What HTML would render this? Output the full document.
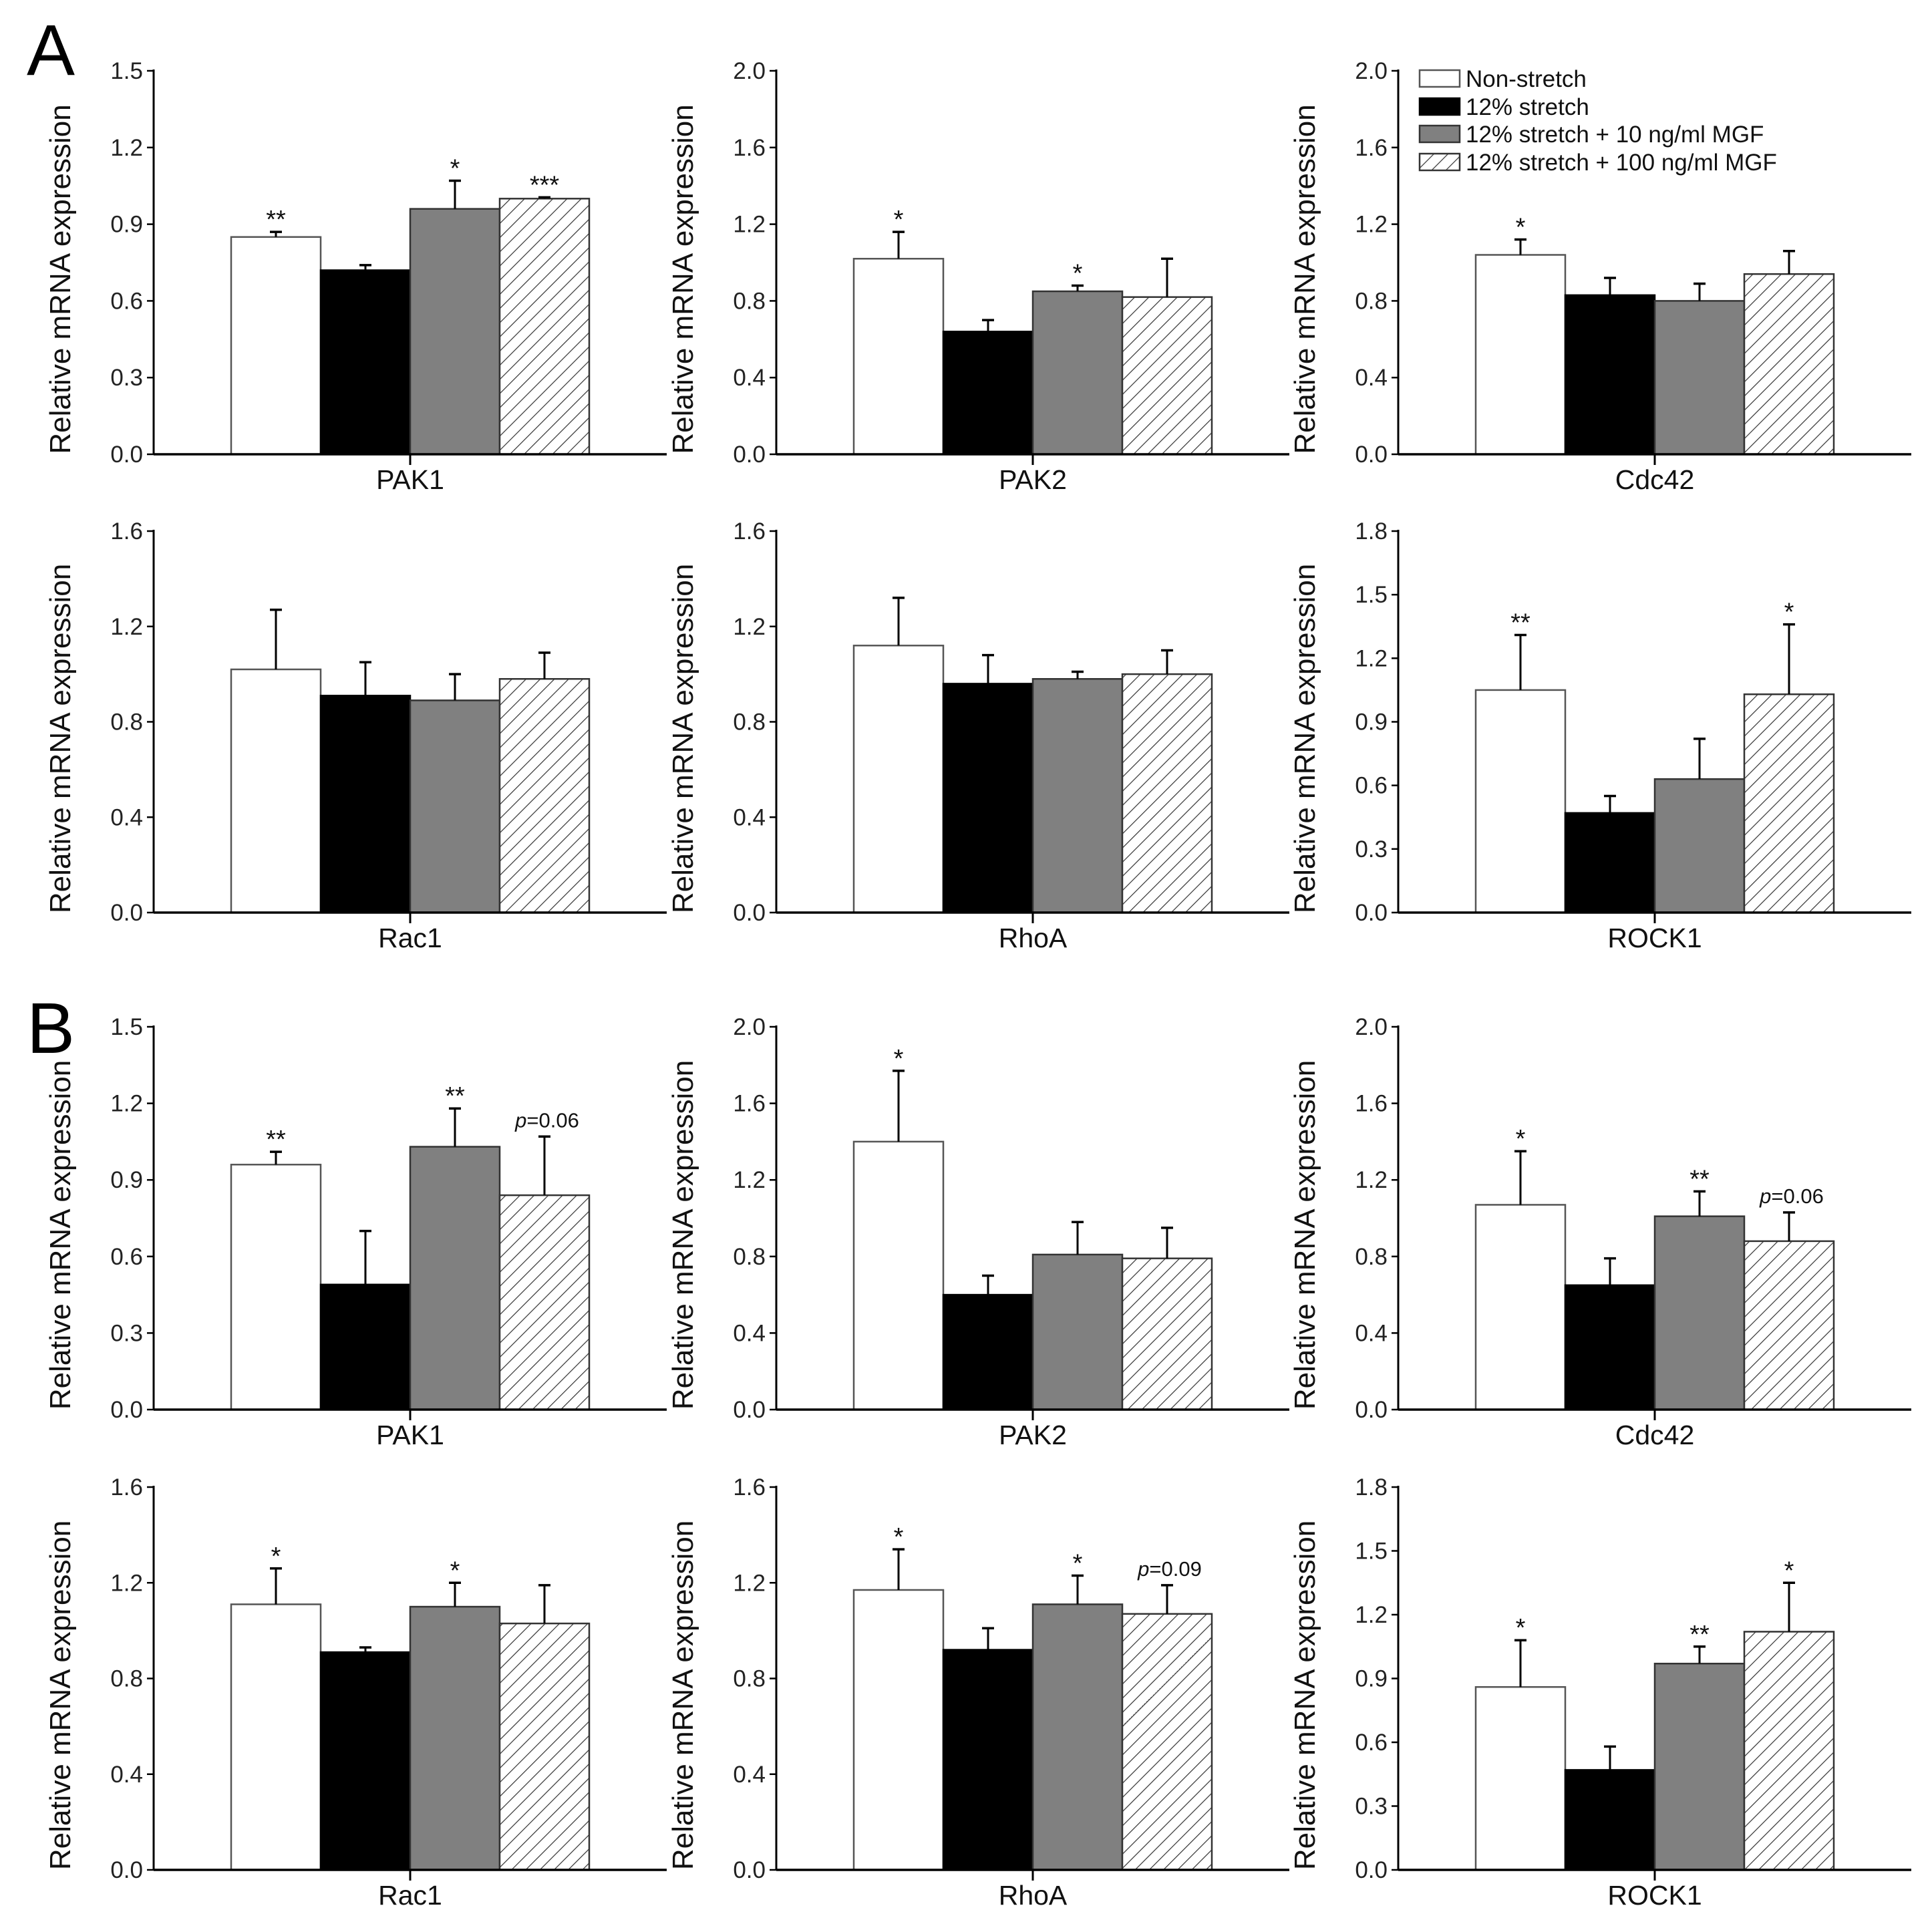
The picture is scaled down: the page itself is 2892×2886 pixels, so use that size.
<!DOCTYPE html>
<html><head><meta charset="utf-8">
<style>
html,body{margin:0;padding:0;background:#fff;}
svg{display:block;font-family:"Liberation Sans",Arial,sans-serif;}
</style></head>
<body>
<svg id="fig" width="2892" height="2886" viewBox="0 0 2892 2886" xmlns="http://www.w3.org/2000/svg">
<defs>
<pattern id="hatch" patternUnits="userSpaceOnUse" width="15" height="15" patternTransform="rotate(45)">
<rect width="15" height="15" fill="#fff"/>
<line x1="0" y1="0" x2="0" y2="15" stroke="#333" stroke-width="2.4"/>
</pattern>
</defs>
<text x="40" y="112" font-size="108">A</text>
<text x="40" y="1576" font-size="108">B</text>
<g id="legend"></g>
</svg>
<script>
// Data: one set of arrays per subplot
const genes = ["PAK1","PAK2","Cdc42","Rac1","RhoA","ROCK1","PAK1","PAK2","Cdc42","Rac1","RhoA","ROCK1"];
const yMax = [1.5,2.0,2.0,1.6,1.6,1.8,1.5,2.0,2.0,1.6,1.6,1.8];
const yStep = [0.3,0.4,0.4,0.4,0.4,0.3,0.3,0.4,0.4,0.4,0.4,0.3];
const means = [
 [0.85,0.72,0.96,1.00],[1.02,0.64,0.85,0.82],[1.04,0.83,0.80,0.94],
 [1.02,0.91,0.89,0.98],[1.12,0.96,0.98,1.00],[1.05,0.47,0.63,1.03],
 [0.96,0.49,1.03,0.84],[1.40,0.60,0.81,0.79],[1.07,0.65,1.01,0.88],
 [1.11,0.91,1.10,1.03],[1.17,0.92,1.11,1.07],[0.86,0.47,0.97,1.12]];
const errTops = [
 [0.87,0.74,1.07,1.005],[1.16,0.70,0.88,1.02],[1.12,0.92,0.89,1.06],
 [1.27,1.05,1.00,1.09],[1.32,1.08,1.01,1.10],[1.31,0.55,0.82,1.36],
 [1.01,0.70,1.18,1.07],[1.77,0.70,0.98,0.95],[1.35,0.79,1.14,1.03],
 [1.26,0.93,1.20,1.19],[1.34,1.01,1.23,1.19],[1.08,0.58,1.05,1.35]];
const marks = [
 ["**","","*","***"],["*","","*",""],["*","","",""],
 ["","","",""],["","","",""],["**","","","*"],
 ["**","","**","p=0.06"],["*","","",""],["*","","**","p=0.06"],
 ["*","","*",""],["*","","*","p=0.09"],["*","","**","*"]];
const seriesNames = ["Non-stretch","12% stretch","12% stretch + 10 ng/ml MGF","12% stretch + 100 ng/ml MGF"];

// layout
const centers=[614,1546,2477];
const rowsY=[[106,680],[795,1366],[1537,2110],[2226,2799]];
const fills=["#fff","#000","#808080","url(#hatch)"];
const strokes=["#555","#000","#333","#333"];
const svg=document.getElementById('fig');
const NS="http://www.w3.org/2000/svg";
function el(tag,attrs,parent,txt){const e=document.createElementNS(NS,tag);for(const k in attrs)e.setAttribute(k,attrs[k]);if(txt!==undefined)e.textContent=txt;(parent||svg).appendChild(e);return e;}

for(let i=0;i<12;i++){
  const cx=centers[i%3], r=rowsY[Math.floor(i/3)];
  const top=r[0], base=r[1];
  const y=v=>base-(v/yMax[i])*(base-top);
  const g=el('g',{});
  
  
  const left=cx-384,right=cx+384,bw=134;
  for(let s=0;s<4;s++){
    const x0=cx-268+s*bw, yt=y(means[i][s]);
    const b=el('rect',{x:x0,y:yt,width:bw,height:base-yt,fill:fills[s],stroke:strokes[s],'stroke-width':2.5},g);
    
    
    const ex=x0+bw/2, ye=y(errTops[i][s]);
    const e1=el('line',{x1:ex,y1:yt,x2:ex,y2:ye,stroke:'#000','stroke-width':3},g);
    
    
    el('line',{x1:ex-9,y1:ye,x2:ex+9,y2:ye,stroke:'#000','stroke-width':3.5},g);
    const m=marks[i][s];
    if(m){
      let t;
      if(m[0]==='p'){
        t=el('text',{x:ex+4,y:ye-14,'font-size':31,'text-anchor':'middle',fill:'#111'},g);
        el('tspan',{'font-style':'italic'},t,'p');
        el('tspan',{},t,m.slice(1));
      } else {
        t=el('text',{x:ex,y:ye-6,'font-size':38,'text-anchor':'middle',fill:'#111'},g,m);
      }
      
      
    }
  }
  const ya=el('line',{x1:left,y1:top-2,x2:left,y2:base,stroke:'#000','stroke-width':3},g);
  
  
  const xa=el('line',{x1:left,y1:base,x2:right,y2:base,stroke:'#000','stroke-width':3.5},g);
  
  
  el('line',{x1:cx,y1:base,x2:cx,y2:base+16,stroke:'#000','stroke-width':3},g);
  const n=Math.round(yMax[i]/yStep[i]);
  for(let k=0;k<=n;k++){
    const v=k*yStep[i], yy=y(v);
    el('line',{x1:left-10,y1:yy,x2:left,y2:yy,stroke:'#000','stroke-width':2.5},g);
    const tl=el('text',{x:left-16,y:yy+12,'font-size':35,'text-anchor':'end',fill:'#222'},g,v.toFixed(1));
    
    
  }
  const xl=el('text',{x:cx,y:base+52,'font-size':41,'text-anchor':'middle',fill:'#111'},g,genes[i]);
  
  
  const yt=el('text',{x:0,y:0,'font-size':44,'text-anchor':'middle',fill:'#111',transform:`translate(${left-125},${(top+base)/2+25}) rotate(-90)`},g,'Relative mRNA expression');
  
  
}
const lg=document.getElementById('legend');
const ly=[117,159,200,242];
for(let s=0;s<4;s++){
  const r=el('rect',{x:2125,y:ly[s]-12,width:60,height:25,fill:fills[s],stroke:strokes[s],'stroke-width':2.5},lg);
  
  
  const t=el('text',{x:2194,y:ly[s]+13,'font-size':35,fill:'#111'},lg,seriesNames[s]);
  
  
}
</script>
</body></html>
